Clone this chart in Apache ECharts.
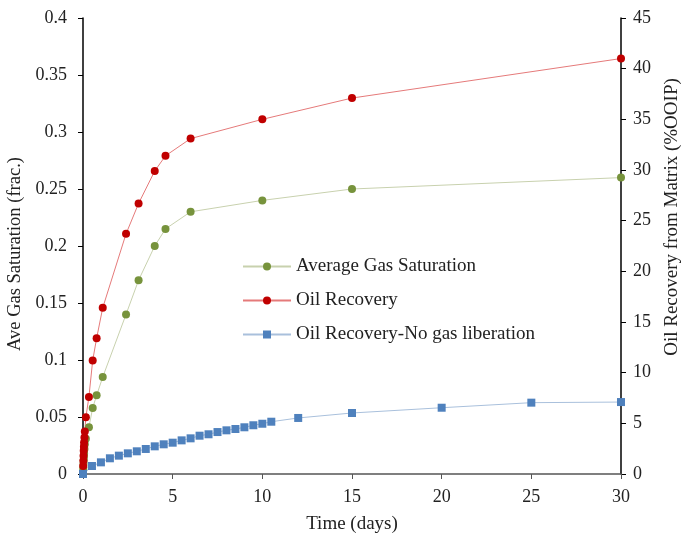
<!DOCTYPE html>
<html>
<head>
<meta charset="utf-8">
<script src="https://cdn.jsdelivr.net/npm/echarts@6/dist/echarts.min.js"></script>
<style>
  html, body { margin: 0; padding: 0; background: #fff; }
  #result { width: 684px; height: 533px; }
</style>
</head>
<body>
<div id="result"></div>
<script>
// 数据
var timeDays = [0, 0.01, 0.02, 0.03, 0.04, 0.05, 0.06, 0.08, 0.1, 0.16, 0.33, 0.54, 0.76, 1.1, 2.4, 3.1, 4, 4.6, 6, 10, 15, 30];
var gasSat = [0, 0.003, 0.006, 0.009, 0.012, 0.015, 0.018, 0.022, 0.026, 0.031, 0.041, 0.058, 0.069, 0.085, 0.14, 0.17, 0.2, 0.215, 0.23, 0.24, 0.25, 0.26];
var oilRec = [0, 0.8, 1.3, 1.8, 2.3, 2.7, 3.1, 3.6, 4.2, 5.6, 7.6, 11.2, 13.4, 16.4, 23.7, 26.7, 29.9, 31.4, 33.1, 35.0, 37.1, 41.0];

var timeNoGas = [0, 0.5, 1, 1.5, 2, 2.5, 3, 3.5, 4, 4.5, 5, 5.5, 6, 6.5, 7, 7.5, 8, 8.5, 9, 9.5, 10, 10.5, 12, 15, 20, 25, 30];
var oilRecNoGas = [0, 0.79, 1.15, 1.55, 1.81, 2.04, 2.24, 2.47, 2.73, 2.93, 3.09, 3.32, 3.52, 3.78, 3.92, 4.14, 4.31, 4.44, 4.61, 4.81, 4.96, 5.16, 5.53, 6.02, 6.54, 7.04, 7.1];

function pairs(xs, ys) {
    return xs.map(function (x, i) { return [x, ys[i]]; });
}

var serif = 'Liberation Serif';
var fs = 18;      // tick labels
var nameFs = 19;  // axis names / legend

var option = {
    backgroundColor: '#fff',
    animation: false,
    textStyle: { fontFamily: serif },
    // ---- legend ----
    legend: {
        orient: 'vertical',
        left: 237,
        top: 252,
        itemWidth: 48,
        itemHeight: 10,
        itemGap: 15,
        textStyle: { fontFamily: serif, fontSize: nameFs, color: '#222' },
        data: ['Average Gas Saturation', 'Oil Recovery', 'Oil Recovery-No gas liberation']
    },
    // ---- grid ----
    grid: { left: 83, right: 63, top: 18, bottom: 59, containLabel: false, outerBoundsMode: 'none' },
    //  ------  X轴 ------
    xAxis: {
        type: 'value',
        min: 0, max: 30, interval: 5,
        name: 'Time (days)',
        nameLocation: 'middle',
        nameGap: 41,
        nameTextStyle: { fontFamily: serif, fontSize: nameFs, color: '#222' },
        axisLine: { show: true, lineStyle: { color: '#555', width: 1.5 } },
        axisTick: { show: true, inside: false, length: 5, lineStyle: { color: '#555' } },
        axisLabel: { fontFamily: serif, fontSize: fs, color: '#222', margin: 14 },
        splitLine: { show: false }
    },
    //   ------   y轴  ----------
    yAxis: [
        {
            type: 'value',
            position: 'left',
            min: 0, max: 0.4, interval: 0.05,
            name: 'Ave Gas Saturation (frac.)',
            nameLocation: 'middle',
            nameGap: 53,
            nameTextStyle: { fontFamily: serif, fontSize: 18.5, color: '#222', padding: [0, 16, 0, 0] },
            axisLine: { show: true, lineStyle: { color: '#000', width: 1.5 } },
            axisTick: { show: true, inside: false, length: 5, lineStyle: { color: '#000' } },
            axisLabel: { fontFamily: serif, fontSize: fs, color: '#222', margin: 16 },
            splitLine: { show: false }
        },
        {
            type: 'value',
            position: 'right',
            min: 0, max: 45, interval: 5,
            name: 'Oil Recovery from Matrix (%OOIP)',
            nameLocation: 'middle',
            nameGap: 42,
            nameTextStyle: { fontFamily: serif, fontSize: nameFs, color: '#222', padding: [0, 0, 0, 58] },
            axisLine: { show: true, lineStyle: { color: '#000', width: 1.5 } },
            axisTick: { show: true, inside: false, length: 5, lineStyle: { color: '#000' } },
            axisLabel: { fontFamily: serif, fontSize: fs, color: '#222', margin: 12 },
            splitLine: { show: false }
        }
    ],
    //  -------   内容数据 -------
    series: [
        {
            name: 'Average Gas Saturation',
            type: 'line',
            yAxisIndex: 0,
            symbol: 'circle',
            symbolSize: 8,
            itemStyle: { color: '#77933C' },
            lineStyle: { color: '#c8d1ae', width: 1 },
            data: pairs(timeDays, gasSat)
        },
        {
            name: 'Oil Recovery',
            type: 'line',
            yAxisIndex: 1,
            symbol: 'circle',
            symbolSize: 8,
            itemStyle: { color: '#C00000' },
            lineStyle: { color: '#e57a7a', width: 1 },
            data: pairs(timeDays, oilRec)
        },
        {
            name: 'Oil Recovery-No gas liberation',
            type: 'line',
            yAxisIndex: 1,
            symbol: 'rect',
            symbolSize: 8,
            itemStyle: { color: '#4F81BD' },
            lineStyle: { color: '#a9c0dc', width: 1 },
            data: pairs(timeNoGas, oilRecNoGas)
        }
    ]
};
var myResult = echarts.init(document.getElementById('result'));
myResult.setOption(option);
</script>
</body>
</html>
